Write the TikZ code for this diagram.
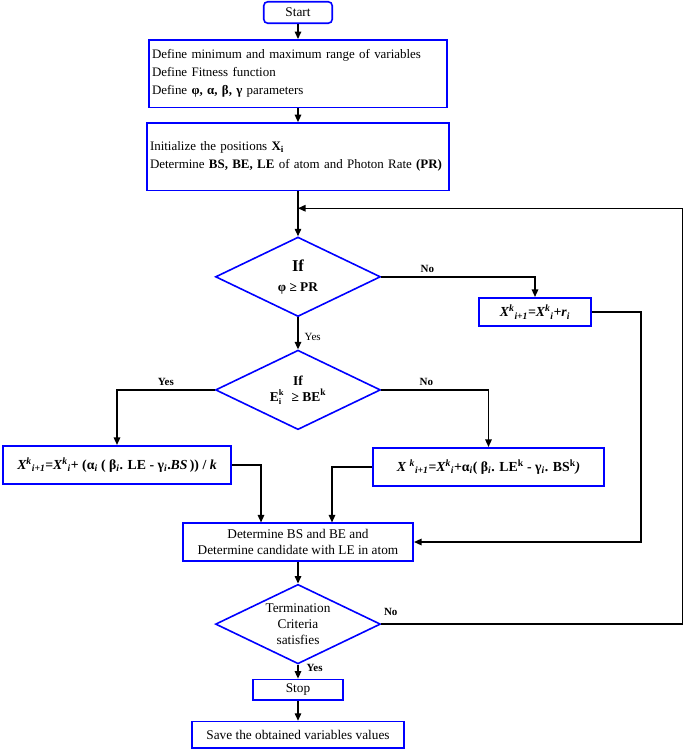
\documentclass[tikz,border=0pt]{standalone}
\usepackage{fontspec}
\setmainfont{Liberation Serif}
\usetikzlibrary{positioning,arrows.meta,shapes.geometric,calc}

\newcommand{\supsub}[2]{\textsuperscript{#1}\textsubscript{#2}}
\newcommand{\stackidx}[2]{\raisebox{-3.2pt}{\fontsize{8.5}{8}\selectfont\shortstack[l]{#1\\#2}}}

\begin{document}
\begin{tikzpicture}[
        x=1pt, y=1pt,
        font=\fontsize{13.3}{16}\selectfont,
        >={Triangle[length=7.5pt,width=6.5pt]},
        block/.style={
            rectangle,
            draw=blue,
            line width=1.6pt,
            align=center,
            inner sep=3pt
        },
        test/.style={
            diamond,
            aspect=2,
            draw=blue,
            line width=1.6pt,
            inner sep=0pt,
            align=center,
            minimum width=165pt,
            minimum height=79.5pt
        },
        formula/.style={font=\fontsize{13.8}{16}\selectfont\bfseries},
        flow/.style={->, line width=1.4pt, draw=black},
        lab/.style={font=\fontsize{11}{12}\selectfont\bfseries, inner sep=2pt},
        node distance=14pt
    ]
        \useasboundingbox (0,0) rectangle (685,-750);

        % Main column
        \node[block, rounded corners=4pt, minimum width=68.5pt, minimum height=21.5pt] (start) at (298,-12.5) {Start};
        \node[block, below=15pt of start, minimum height=67.5pt, text width=292pt, align=left,
              font=\fontsize{12.95}{16}\selectfont] (def)
            {Define minimum and maximum range of variables\\[2pt]
             Define Fitness function\\[2pt]
             Define \textbf{φ, α, β, γ} parameters};
        \node[block, below=14pt of def, minimum height=67.5pt, text width=296pt, align=left,
              font=\fontsize{12.95}{16}\selectfont] (init)
            {Initialize the positions \textbf{X\textsubscript{i}}\\[2pt]
             Determine \textbf{BS, BE, LE} of atom and Photon Rate \textbf{(PR)}};
        \node[test, below=45pt of init] (ifpr)
            {{\fontsize{16.5}{18}\selectfont\bfseries If}\\[4pt] \textbf{φ ≥ PR}};
        \node[test, below=32pt of ifpr, font=\fontsize{13.5}{16}\selectfont\bfseries] (ifbe)
            {If\\ E\stackidx{k}{i}\,\, ≥ BE\textsuperscript{k}};

        % Update branches
        \node[block, formula, minimum width=112.5pt, minimum height=28.5pt] (xr) at (535,-312)
            {\textit{X\supsub{k}{i+1}=X\supsub{k}{i}+r\textsubscript{i}}};
        \node[block, formula, minimum width=228.5pt, minimum height=38.5pt] (bl) at (117,-465)
            {\textit{X\supsub{k}{i+1}}=\textit{X\supsub{k}{i}}+ (α\textsubscript{\textit{i}} ( β\textsubscript{\textit{i}}. LE - γ\textsubscript{\textit{i}}.\textit{BS}\,)) / \textit{k}};
        \node[block, formula, minimum width=231.5pt, minimum height=38.5pt] (br) at (488.5,-467)
            {\textit{X} \supsub{\textit{k}}{\textit{i+1}}=\textit{X\supsub{k}{i}}+α\textsubscript{\textit{i}}( β\textsubscript{\textit{i}}. LE\textsuperscript{k} - γ\textsubscript{\textit{i}}. BS\textsuperscript{k}\textit{)}};

        \node[block, below=92pt of ifbe, minimum width=230.5pt, minimum height=37.5pt] (det)
            {Determine BS and BE and\\ Determine candidate with LE in atom};
        \node[test, below=22pt of det] (term) {Termination\\ Criteria\\ satisfies};
        \node[block, below=14pt of term, minimum width=90.5pt, minimum height=20.5pt] (stop) {Stop};
        \node[block, below=20pt of stop, minimum width=211.5pt, minimum height=26.5pt] (save)
            {Save the obtained variables values};

        % Arrows
        \coordinate[below=17pt of init.south] (merge);
        \draw[flow] (start) -- (def);
        \draw[flow] (def) -- (init);
        \draw[flow] (init) -- (ifpr);
        \draw[flow] (ifpr.east) -| node[lab, pos=0.15, above, yshift=1.5pt] {No} (xr.north);
        \draw[flow] (ifpr) -- node[lab, font=\fontsize{11}{12}\selectfont, right, pos=0.6, xshift=4pt] {Yes} (ifbe);
        \draw[flow] (ifbe.west) -| node[lab, pos=0.25, above, yshift=2pt] {Yes} (bl.north);
        \draw[flow] (ifbe.east) -| node[lab, pos=0.21, above, yshift=2pt] {No} (br.north);
        \draw[flow] (bl.east) -| ([xshift=-37pt]det.north);
        \draw[flow] (br.west) -| ([xshift=34pt]det.north);
        \draw[flow] (xr.east) -- ++(49,0) |- (det.east);
        \draw[flow] (det) -- (term);
        \draw[flow] (term) -- node[lab, right, pos=0.25, xshift=6pt] {Yes} (stop);
        \draw[flow] (stop) -- (save);
        \draw[flow] (term.east) -- node[lab, pos=0, above right, yshift=6pt] {No} ++(301,0) |- (merge);

    \end{tikzpicture}
\end{document}
